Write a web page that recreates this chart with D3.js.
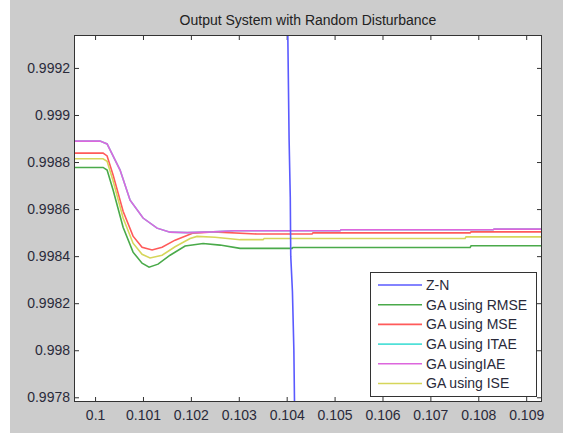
<!DOCTYPE html>
<html>
<head>
<meta charset="utf-8">
<script src="https://cdn.jsdelivr.net/npm/d3@7"></script>
<style>
  body { margin: 0; background: #fff; }
  svg { display: block; font-family: "Liberation Sans", Arial, sans-serif; }
</style>
</head>
<body>
<div id="chart"></div>
<script>
const title = "Output System with Random Disturbance";
const seriesNames = ["Z-N", "GA using RMSE", "GA using MSE", "GA using ITAE", "GA usingIAE", "GA using ISE"];
const seriesColors = ["#5a5aff", "#4aaa4a", "#ff5a5a", "#50e0d8", "#dd66dd", "#d6d65a"];
const xTicks = [0.1, 0.101, 0.102, 0.103, 0.104, 0.105, 0.106, 0.107, 0.108, 0.109];
const yTicks = [0.9978, 0.998, 0.9982, 0.9984, 0.9986, 0.9988, 0.999, 0.9992];
const xDomain = [0.09956, 0.10933];
const yDomain = [0.99778, 0.99934];

// [time, output]
const zn = [
  [0.104020, 0.99940], [0.104050, 0.99890], [0.104075, 0.99865], [0.104085, 0.99840],
  [0.104120, 0.99825], [0.104150, 0.99800], [0.104165, 0.99775]
];
const rmse = [
  [0.09956, 0.998777], [0.100167, 0.998777], [0.100251, 0.998766], [0.100376, 0.998681],
  [0.100585, 0.998523], [0.100793, 0.998417], [0.100981, 0.998370], [0.101127, 0.998353],
  [0.101315, 0.998366], [0.101566, 0.998404], [0.101879, 0.998443], [0.102255, 0.998454],
  [0.102610, 0.998447], [0.103027, 0.998433], [0.104113, 0.998433], [0.104130, 0.998437],
  [0.107829, 0.998437], [0.107850, 0.998444], [0.109332, 0.998444]
];
const mse = [
  [0.09956, 0.998838], [0.100167, 0.998838], [0.100251, 0.998826], [0.100376, 0.998745],
  [0.100585, 0.998591], [0.100793, 0.998485], [0.100981, 0.998438], [0.101190, 0.998426],
  [0.101399, 0.998438], [0.101670, 0.998468], [0.102046, 0.998498], [0.102463, 0.998503],
  [0.103382, 0.998494], [0.104530, 0.998494], [0.104550, 0.998499], [0.107829, 0.998499],
  [0.107850, 0.998503], [0.109332, 0.998503]
];
const itae = [
  [0.09956, 0.998889], [0.100104, 0.998889], [0.100251, 0.998877], [0.100522, 0.998766],
  [0.100731, 0.998638], [0.101002, 0.998562], [0.101294, 0.998519], [0.101566, 0.998502],
  [0.101921, 0.998500], [0.102463, 0.998503], [0.102900, 0.998508], [0.105115, 0.998508],
  [0.105135, 0.998512], [0.108309, 0.998512], [0.108330, 0.998515], [0.109332, 0.998515]
];
const iae = [
  [0.09956, 0.998889], [0.100104, 0.998889], [0.100251, 0.998877], [0.100522, 0.998766],
  [0.100731, 0.998638], [0.101002, 0.998562], [0.101294, 0.998519], [0.101566, 0.998502],
  [0.101921, 0.998500], [0.102463, 0.998503], [0.102900, 0.998508], [0.105115, 0.998508],
  [0.105135, 0.998512], [0.108309, 0.998512], [0.108330, 0.998515], [0.109332, 0.998515]
];
const ise = [
  [0.09956, 0.998814], [0.100167, 0.998814], [0.100251, 0.998803], [0.100376, 0.998720],
  [0.100585, 0.998562], [0.100793, 0.998455], [0.100981, 0.998408], [0.101148, 0.998392],
  [0.101399, 0.998404], [0.101670, 0.998440], [0.101983, 0.998475], [0.102129, 0.998484],
  [0.102505, 0.998480], [0.103027, 0.998470], [0.103507, 0.998470], [0.103530, 0.998475],
  [0.107724, 0.998475], [0.107745, 0.998482], [0.109332, 0.998482]
];

const width = 563;
const height = 433;
const margin = { top: 35, right: 21, bottom: 31, left: 74 };

const svg = d3.select("#chart").append("svg")
  .attr("width", width)
  .attr("height", height);

// figure background, with a thin white strip on the left
svg.append("rect").attr("width", width).attr("height", height).attr("fill", "#fff");
svg.append("rect").attr("x", 10).attr("width", width - 10).attr("height", height).attr("fill", "#cccccc");

const x = d3.scaleLinear().domain(xDomain).range([margin.left, width - margin.right]);
const y = d3.scaleLinear().domain(yDomain).range([height - margin.bottom, margin.top]);

svg.append("rect")
  .attr("x", margin.left)
  .attr("y", margin.top)
  .attr("width", width - margin.left - margin.right)
  .attr("height", height - margin.top - margin.bottom)
  .attr("fill", "#fff");

svg.append("clipPath").attr("id", "plot-clip")
  .append("rect")
  .attr("x", margin.left)
  .attr("y", margin.top)
  .attr("width", width - margin.left - margin.right)
  .attr("height", height - margin.top - margin.bottom);

svg.append("text")
  .attr("x", (margin.left + width - margin.right) / 2)
  .attr("y", 25)
  .attr("text-anchor", "middle")
  .attr("font-size", 14)
  .attr("fill", "#222")
  .text(title);

// axes (ticks point inward, box on all four sides)
const tickColor = "#333";
const yAxis = svg.append("g")
  .attr("transform", `translate(${margin.left},0)`)
  .call(d3.axisLeft(y).tickValues(yTicks).tickFormat(d3.format("")).tickSizeInner(-5).tickSizeOuter(0).tickPadding(4));
const xAxis = svg.append("g")
  .attr("transform", `translate(0,${height - margin.bottom})`)
  .call(d3.axisBottom(x).tickValues(xTicks).tickFormat(d3.format("")).tickSizeInner(-5).tickSizeOuter(0).tickPadding(8));
const rAxis = svg.append("g")
  .attr("transform", `translate(${width - margin.right},0)`)
  .call(d3.axisRight(y).tickValues(yTicks).tickFormat("").tickSizeInner(-5).tickSizeOuter(0));
const tAxis = svg.append("g")
  .attr("transform", `translate(0,${margin.top})`)
  .call(d3.axisTop(x).tickValues(xTicks).tickFormat("").tickSizeInner(-5).tickSizeOuter(0));

[yAxis, xAxis, rAxis, tAxis].forEach(g => {
  g.select(".domain").remove();
  g.selectAll("line").attr("stroke", tickColor);
  g.selectAll("text")
    .attr("font-family", "\"Liberation Sans\", Arial, sans-serif")
    .attr("font-size", 14)
    .attr("fill", "#2a2a3a");
});

const line = d3.line().x(d => x(d[0])).y(d => y(d[1]));

const series = [zn, rmse, mse, itae, iae, ise];
const plot = svg.append("g").attr("clip-path", "url(#plot-clip)");

// GA curves first, Z-N response on top
[1, 2, 3, 4, 5, 0].forEach(i => {
  plot.append("path")
    .datum(series[i])
    .attr("fill", "none")
    .attr("stroke", seriesColors[i])
    .attr("stroke-width", 1.6)
    .attr("d", line);
});

svg.append("rect")
  .attr("x", margin.left + 0.5)
  .attr("y", margin.top + 0.5)
  .attr("width", width - margin.left - margin.right - 1)
  .attr("height", height - margin.top - margin.bottom - 1)
  .attr("fill", "none")
  .attr("stroke", tickColor);

// legend
const legend = svg.append("g").attr("transform", "translate(370,272)");
legend.append("rect")
  .attr("x", 0.5).attr("y", 0.5)
  .attr("width", 166).attr("height", 124)
  .attr("fill", "#fff")
  .attr("stroke", tickColor);

const rows = legend.selectAll("g.row")
  .data(seriesNames)
  .join("g")
  .attr("class", "row")
  .attr("transform", (d, i) => `translate(0,${13 + i * 19.7})`);

rows.append("line")
  .attr("x1", 8).attr("x2", 52)
  .attr("stroke", (d, i) => seriesColors[i])
  .attr("stroke-width", 1.6);

rows.append("text")
  .attr("x", 56)
  .attr("dy", "0.35em")
  .attr("font-size", 14)
  .attr("fill", "#2a2a3a")
  .text(d => d);
</script>
</body>
</html>
